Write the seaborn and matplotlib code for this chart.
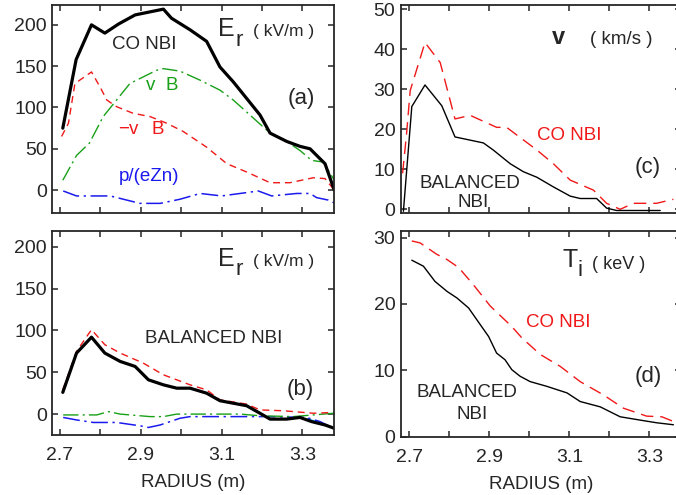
import matplotlib
matplotlib.use("Agg")
import matplotlib.pyplot as plt
import numpy as np
import pandas as pd
import seaborn as sns

# ---------------- data ----------------
# (a) CO NBI : Er and its components
r_a_er = [2.707, 2.740, 2.778, 2.811, 2.845, 2.886, 2.956, 2.976, 3.022, 3.063, 3.096, 3.129,
          3.162, 3.195, 3.220, 3.261, 3.294, 3.319, 3.356, 3.379]
a_er = [75, 158, 200, 190, 201, 212, 219, 208, 194, 180, 149, 131,
        111, 91, 69, 59, 53, 50, 32, 0]

r_a_vb = [2.707, 2.741, 2.773, 2.807, 2.840, 2.873, 2.906, 2.939, 2.956, 2.997, 3.047, 3.096,
          3.129, 3.170, 3.220, 3.261, 3.294, 3.323, 3.352, 3.379]
a_vb = [12, 42, 57, 89, 109, 129, 137, 145, 147, 144, 133, 121,
        109, 91, 69, 59, 48, 36, 34, 12]

r_a_mvb = [2.704, 2.721, 2.737, 2.778, 2.799, 2.816, 2.840, 2.881, 2.923, 2.964, 3.005, 3.063,
           3.113, 3.162, 3.220, 3.269, 3.327, 3.356, 3.379]
a_mvb = [65, 81, 129, 143, 125, 109, 101, 93, 89, 81, 71, 52,
         32, 22, 9, 9, 15, 14, 0]

r_a_p = [2.708, 2.741, 2.824, 2.849, 2.898, 2.948, 2.997, 3.047, 3.100, 3.146, 3.191, 3.224,
         3.286, 3.319, 3.335, 3.364, 3.381]
a_p = [-1, -7, -7, -10, -16, -16, -11, -4, -7, -4, -1, -7,
       -4, -4, -9, -12, -16]

# (b) BALANCED NBI
r_b_er = [2.707, 2.741, 2.778, 2.811, 2.849, 2.886, 2.919, 2.956, 2.989, 3.022, 3.063, 3.096,
          3.129, 3.162, 3.195, 3.220, 3.261, 3.294, 3.323, 3.356, 3.379]
b_er = [26, 73, 92, 73, 63, 57, 41, 35, 31, 31, 25, 16,
        13, 10, 1, -6, -6, -4, -9, -13, -17]

r_b_mvb = [2.707, 2.741, 2.778, 2.811, 2.849, 2.906, 2.956, 3.022, 3.063, 3.096, 3.162, 3.195,
           3.253, 3.327, 3.379]
b_mvb = [29, 75, 101, 83, 73, 61, 47, 35, 29, 17, 12, 5,
         4, 1, 2]

r_b_vb = [2.708, 2.791, 2.820, 2.849, 2.923, 2.956, 2.989, 3.146, 3.195, 3.277, 3.377]
b_vb = [-1, -1, 3, 0, -3, -3, 0, 0, -2, -3, 1]

r_b_p = [2.708, 2.741, 2.782, 2.840, 2.898, 2.919, 2.948, 2.997, 3.022, 3.212, 3.310, 3.344, 3.377]
b_p = [-4, -7, -10, -10, -14, -16, -13, -5, -3, -3, -4, -9, -17]

# (c) rotation velocity (km/s)
r_c_co = [2.683, 2.693, 2.702, 2.739, 2.777, 2.814, 2.852, 2.918, 2.943, 3.019, 3.060, 3.102,
          3.160, 3.193, 3.227, 3.260, 3.318, 3.360]
c_co = [9, 19, 29.7, 41.7, 36.7, 22.6, 23.5, 20.5, 20.5, 14.8, 11.4, 7.3,
        4.8, 1.5, 0, 1.5, 1.5, 2.5]

r_c_bal = [2.685, 2.706, 2.739, 2.781, 2.814, 2.885, 2.910, 2.952, 2.985, 3.019, 3.060, 3.102,
           3.127, 3.168, 3.193, 3.218, 3.327]
c_bal = [-0.5, 25.7, 31.1, 25.9, 18.1, 16.6, 14.8, 11.4, 9.4, 8.0, 5.6, 3.3,
         2.7, 2.7, 0.3, -0.3, -0.3]

# (d) ion temperature (keV)
r_d_co = [2.706, 2.727, 2.768, 2.794, 2.823, 2.860, 2.902, 2.956, 2.981, 3.027, 3.077, 3.127,
          3.185, 3.235, 3.293, 3.331, 3.360]
d_co = [29.5, 29.2, 27.5, 26.7, 25.5, 22.9, 19.7, 16.6, 14.9, 12.4, 10.6, 8.3,
        6.3, 4.3, 3.1, 3.0, 2.3]

r_d_bal = [2.706, 2.735, 2.764, 2.794, 2.819, 2.848, 2.877, 2.898, 2.918, 2.939, 2.956, 2.977,
           3.002, 3.043, 3.094, 3.127, 3.177, 3.227, 3.277, 3.318, 3.360]
d_bal = [26.6, 25.7, 23.4, 21.9, 20.9, 19.4, 16.9, 15.1, 12.6, 11.6, 10.1, 9.1,
         8.3, 7.6, 6.6, 5.3, 4.5, 3.0, 2.5, 2.1, 1.8]

x_ticks = [2.7, 2.8, 2.9, 3.0, 3.1, 3.2, 3.3]
x_ticklabels = ["2.7", "", "2.9", "", "3.1", "", "3.3"]

# ---------------- style ----------------
sns.set_style("ticks")
plt.rcParams["font.family"] = ["Liberation Sans", "DejaVu Sans"]
plt.rcParams["axes.linewidth"] = 1.3

RED = "#f01818"
GREEN = "#18a018"
BLUE = "#1a1aee"
CYAN = "#10b8f0"
DASH = (0, (5, 3.5))
DASHDOT = (0, (11, 3, 1.5, 3))
LONGDASH = (0, (9, 5))

W, H = 676, 495
fig = plt.figure(figsize=(W / 100, H / 100), dpi=100)


def add_axes(l, r, t, b):
    return fig.add_axes([l / W, (H - b) / H, (r - l) / W, (b - t) / H])


ax_a = add_axes(52.3, 334.3, 5, 213.3)
ax_b = add_axes(52.3, 334.3, 231, 435)
ax_c = add_axes(401, 681, 5, 213.3)
ax_d = add_axes(401, 681, 231, 436.7)


def line(ax, x, y, color, lw, ls="-"):
    df = pd.DataFrame({"R": x, "v": y})
    sns.lineplot(data=df, x="R", y="v", ax=ax, color=color, linewidth=lw,
                 linestyle=ls, sort=False, estimator=None, legend=False)


# (a)
line(ax_a, r_a_p, a_p, BLUE, 1.1, DASHDOT)
line(ax_a, r_a_mvb, a_mvb, RED, 1.0, DASH)
line(ax_a, r_a_vb, a_vb, GREEN, 1.0, DASHDOT)
line(ax_a, r_a_er, a_er, "black", 2.3)
# (b)
fill_x = np.linspace(3.31, 3.377, 20)
ax_b.fill_between(fill_x, np.interp(fill_x, r_b_er, b_er), np.interp(fill_x, r_b_p, b_p),
                  color=CYAN, linewidth=0)
line(ax_b, r_b_p, b_p, BLUE, 1.1, DASHDOT)
line(ax_b, r_b_vb, b_vb, GREEN, 1.0, DASHDOT)
line(ax_b, r_b_mvb, b_mvb, RED, 1.0, DASH)
line(ax_b, r_b_er, b_er, "black", 2.3)
# (c)
line(ax_c, r_c_co, c_co, RED, 1.0, LONGDASH)
line(ax_c, r_c_bal, c_bal, "black", 1.0)
# (d)
line(ax_d, r_d_co, d_co, RED, 1.0, LONGDASH)
line(ax_d, r_d_bal, d_bal, "black", 1.0)

for ax in (ax_a, ax_b, ax_c, ax_d):
    ax.set_xlim(2.681, 3.379)
    ax.set_xticks(x_ticks)
    ax.tick_params(direction="in", top=True, right=True, length=4, width=1.1,
                   labelsize=14, pad=4)
    ax.tick_params(axis="x", pad=9)
    ax.set_xlabel("")
    ax.set_ylabel("")

ax_c.set_xlim(2.679, 3.379)
ax_d.set_xlim(2.679, 3.379)

for ax in (ax_a, ax_c):
    ax.set_xticklabels([])
for ax in (ax_b, ax_d):
    ax.set_xticklabels(x_ticklabels)
    ax.set_xlabel("RADIUS (m)", fontsize=13.5, labelpad=7)

ax_a.set_ylim(-28, 224)
ax_a.set_yticks([0, 50, 100, 150, 200])
ax_b.set_ylim(-25, 219)
ax_b.set_yticks([0, 50, 100, 150, 200])
ax_c.set_ylim(-1, 51.1)
ax_c.set_yticks([0, 10, 20, 30, 40, 50])
ax_d.set_ylim(0, 31)
ax_d.set_yticks([0, 10, 20, 30])

FS = 13.5
# (a) annotations
ax_a.text(2.908, 176, "CO NBI", fontsize=FS, ha="center", va="center")
ax_a.text(2.924, 127, "v", fontsize=FS, color=GREEN, ha="center", va="center")
ax_a.text(2.977, 127, "B", fontsize=FS, color=GREEN, ha="center", va="center")
ax_a.text(2.870, 73, "\u2212v", fontsize=FS, color=RED, ha="center", va="center")
ax_a.text(2.941, 73, "B", fontsize=FS, color=RED, ha="center", va="center")
ax_a.text(2.920, 16, "p/(eZn)", fontsize=FS, color=BLUE, ha="center", va="center")
ax_a.text(3.297, 111, "(a)", fontsize=16, ha="center", va="center")
ax_a.text(3.090, 186, "E", fontsize=18, ha="left", va="baseline")
ax_a.text(3.135, 175, "r", fontsize=16, ha="left", va="baseline")
ax_a.text(3.178, 186, "( kV/m )", fontsize=12.5, ha="left", va="baseline")

# (b) annotations
ax_b.text(3.081, 91, "BALANCED NBI", fontsize=FS, ha="center", va="center")
ax_b.text(3.294, 29, "(b)", fontsize=16, ha="center", va="center")
ax_b.text(3.090, 177, "E", fontsize=18, ha="left", va="baseline")
ax_b.text(3.135, 166, "r", fontsize=16, ha="left", va="baseline")
ax_b.text(3.178, 177, "( kV/m )", fontsize=12.5, ha="left", va="baseline")

# (c) annotations
ax_c.text(3.072, 41.3, "v", fontsize=17, ha="center", va="baseline", fontweight="bold")
ax_c.text(3.230, 41.3, "( km/s )", fontsize=13.5, ha="center", va="baseline")
ax_c.text(3.099, 18.5, "CO NBI", fontsize=FS, color=RED, ha="center", va="center")
ax_c.text(3.296, 10.5, "(c)", fontsize=16, ha="center", va="center")
ax_c.text(2.852, 6.5, "BALANCED", fontsize=FS, ha="center", va="center")
ax_c.text(2.859, 1.6, "NBI", fontsize=FS, ha="center", va="center")

# (d) annotations
ax_d.text(3.082, 25.5, "T", fontsize=18, ha="left", va="baseline")
ax_d.text(3.121, 24.2, "i", fontsize=16, ha="left", va="baseline")
ax_d.text(3.224, 26.0, "( keV )", fontsize=13, ha="center", va="center")
ax_d.text(3.072, 17.2, "CO NBI", fontsize=FS, color=RED, ha="center", va="center")
ax_d.text(3.296, 9.0, "(d)", fontsize=16, ha="center", va="center")
ax_d.text(2.844, 6.6, "BALANCED", fontsize=FS, ha="center", va="center")
ax_d.text(2.857, 3.3, "NBI", fontsize=FS, ha="center", va="center")

fig.savefig("out.png", dpi=100)
